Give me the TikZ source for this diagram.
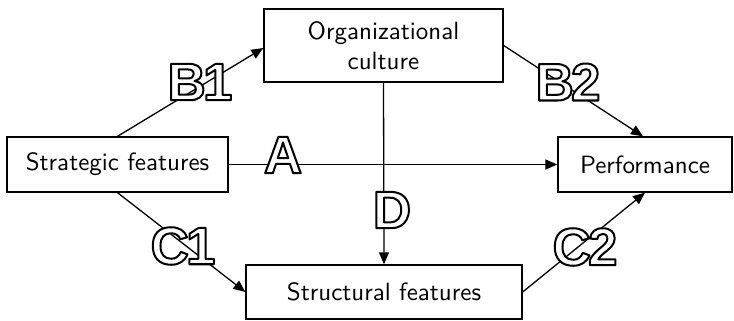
\documentclass[tikz,border=0pt]{standalone}
\usepackage{fontspec}
\newfontfamily\lblfont{Liberation Sans}
\newfontfamily\boxfont{lmsans10-regular}[Extension=.otf]
\usetikzlibrary{arrows.meta}
\newcommand\outl[1]{\special{pdf:literal direct 2 Tr 2 w 1 g 0 G 1 j}#1\special{pdf:literal direct 0 Tr 0 g 0 G 0 j}}
\begin{document}
\begin{tikzpicture}[x=1pt,y=-1pt,
  box/.style={draw, line width=1.3pt, inner sep=0pt, font=\boxfont\fontsize{25}{30}\selectfont, align=center},
  conn/.style={line width=1.3pt, -{Triangle[length=12pt,width=10pt]}},
  lbl/.style={inner sep=0pt, font=\lblfont\bfseries\fontsize{53}{53}\selectfont}]
\useasboundingbox (0,0) rectangle (734,321);
\node[box, minimum width=221pt, minimum height=55pt] (strat) at (117.5,164.5) {Strategic features};
\node[box, minimum width=239pt, minimum height=73pt] (org) at (383.5,45.5) {Organizational\\culture};
\node[box, minimum width=174pt, minimum height=55pt] (perf) at (645,164.5) {Performance};
\node[box, minimum width=276pt, minimum height=54pt] (struct) at (384,292) {Structural features};
\draw[conn] (strat.north) -- ([yshift=-2.5pt]org.west);
\draw[conn] (org.east) -- ([xshift=-2pt]perf.north);
\draw[conn] (strat.east) -- (perf.west);
\draw[conn] (org.south) -- (struct.north);
\draw[conn] (strat.south) -- (struct.west);
\draw[conn] (struct.east) -- (perf.south);
\node[lbl] (lB1) at (200,82) {\outl{B\kern-3pt 1}};
\node[lbl] (lB2) at (568,82) {\outl{B\kern-3pt 2}};
\node[lbl] (lA) at (283,155) {\outl{A}};
\node[lbl] (lD) at (392,210) {\outl{D}};
\node[lbl] (lC1) at (183,246) {\outl{C\kern-3pt 1}};
\node[lbl] (lC2) at (585,247) {\outl{C\kern-3pt 2}};
\end{tikzpicture}
\end{document}
